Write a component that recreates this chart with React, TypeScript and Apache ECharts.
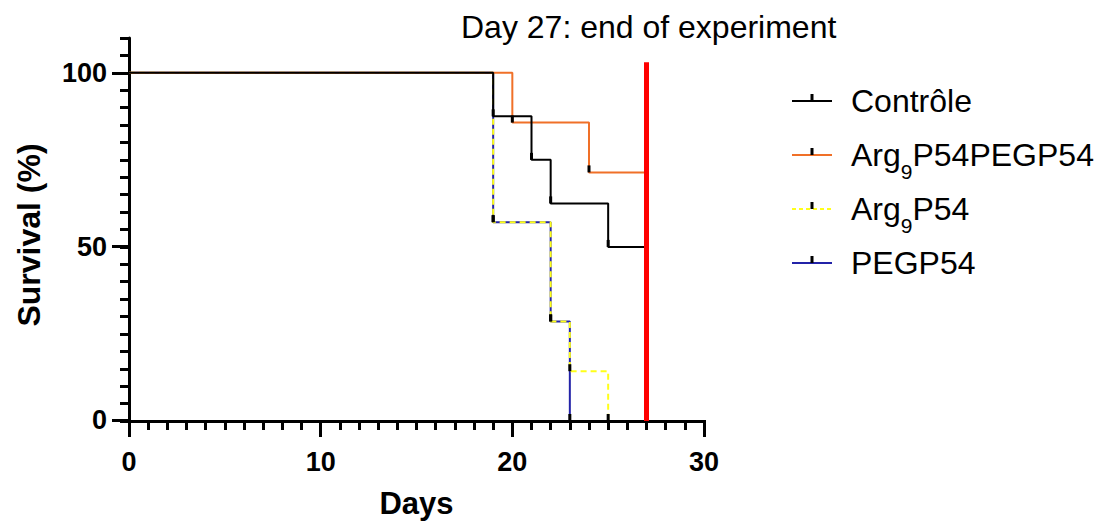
import React, { useEffect, useRef } from "react";
import * as echarts from "echarts";

// ---- data ----
const controleDays = [0, 19, 21, 22, 25, 27];
const controleSurv = [100, 87.5, 75, 62.5, 50, 50];
const argPegDays = [0, 20, 24, 27];
const argPegSurv = [100, 85.7, 71.4, 71.4];
const argDays = [0, 19, 22, 23, 25];
const argSurv = [100, 57.1, 28.6, 14.3, 0];
const pegDays = [0, 19, 22, 23];
const pegSurv = [100, 57.1, 28.6, 0];
const endDay = 27;
const endLineSurv = [0, 103];
const xTicks = [0, 10, 20, 30];
const yTicks = [0, 50, 100];

const FONT = "'Liberation Sans', Arial, sans-serif";

const seriesDefs = [
  { name: "PEGP54", days: pegDays, surv: pegSurv, color: "#2323a8", dash: "solid" as any },
  { name: "Arg9P54", days: argDays, surv: argSurv, color: "#ffff1a", dash: [6, 4] as any },
  { name: "Arg9P54PEGP54", days: argPegDays, surv: argPegSurv, color: "#f07028", dash: "solid" as any },
  { name: "Contrôle", days: controleDays, surv: controleSurv, color: "#000000", dash: "solid" as any },
];

const legendOrder = ["Contrôle", "Arg9P54PEGP54", "Arg9P54", "PEGP54"];

function richName(name: string) {
  return name.replace("Arg9", "{n|Arg}{s|9}{n|") + (name.startsWith("Arg9") ? "}" : "");
}

export default function App() {
  const ref = useRef<HTMLDivElement>(null);
  useEffect(() => {
    if (!ref.current) return;
    const chart = echarts.init(ref.current, undefined, { renderer: "svg" });

    const series: any[] = seriesDefs.map((s) => ({
      type: "line",
      name: s.name,
      xAxisIndex: 0,
      yAxisIndex: 0,
      step: "end",
      data: s.days.map((d, i) => ({
        value: [d, s.surv[i]],
        symbol: i > 0 && d < endDay ? "rect" : "none",
      })),
      symbolSize: [3, 7],
      symbolOffset: [0, -3.5],
      itemStyle: { color: "#000" },
      lineStyle: { color: s.color, width: 2, type: s.dash },
      showSymbol: true,
      clip: false,
      z: 3,
    }));
    series.push({
      type: "line",
      name: "end",
      xAxisIndex: 0,
      yAxisIndex: 0,
      data: endLineSurv.map((v) => [endDay, v]),
      symbol: "none",
      lineStyle: { color: "#ff0000", width: 5 },
      clip: false,
      z: 4,
    });

    const legendY0 = 101;
    const legendStep = 54;
    const graphics: any[] = [];
    legendOrder.forEach((nm, i) => {
      const s = seriesDefs.find((d) => d.name === nm)!;
      const y = legendY0 + i * legendStep;
      const isRich = nm.startsWith("Arg9");
      graphics.push({
        type: "line",
        shape: { x1: 792, y1: y, x2: 832, y2: y },
        style: { stroke: s.color, lineWidth: 2, lineDash: Array.isArray(s.dash) ? [4, 3] : null },
      });
      graphics.push({
        type: "rect",
        shape: { x: 810.5, y: y - 7, width: 3, height: 7 },
        style: { fill: "#000" },
      });
      graphics.push({
        type: "text",
        x: 851,
        y: isRich ? y + 6 : y,
        style: {
          text: isRich ? richName(nm) : nm,
          fontFamily: FONT,
          fontSize: 32,
          fill: "#000",
          verticalAlign: "middle",
          rich: {
            n: { fontFamily: FONT, fontSize: 32, fill: "#000", verticalAlign: "bottom", padding: [0, 0, 12, 0] },
            s: { fontFamily: FONT, fontSize: 21, fill: "#000", verticalAlign: "bottom", padding: [0, 0, 1, 0] },
          },
        },
      });
    });
    graphics.push({
      type: "text",
      x: 29,
      y: 235,
      rotation: Math.PI / 2,
      style: {
        text: "Survival (%)",
        fontFamily: FONT,
        fontSize: 32,
        fontWeight: "bold",
        fill: "#000",
        align: "center",
        verticalAlign: "middle",
      },
    });

    chart.setOption({
      animation: false,
      title: {
        text: "Day 27: end of experiment",
        left: 461,
        top: 11,
        padding: 0,
        textStyle: { fontFamily: FONT, fontSize: 32, fontWeight: "normal", color: "#000" },
      },
      grid: [
        { left: 129, top: 38, width: 575, height: 383, containLabel: false },
        { left: 129, top: 73, width: 575, height: 348, containLabel: false },
      ],
      xAxis: [
        {
          type: "value",
          gridIndex: 0,
          min: 0,
          max: 30,
          interval: 1,
          axisLine: { show: true, lineStyle: { color: "#000", width: 3 } },
          axisTick: { show: true, length: 9, lineStyle: { color: "#000", width: 3 } },
          axisLabel: { show: false },
          splitLine: { show: false },
        },
        {
          type: "value",
          gridIndex: 1,
          min: 0,
          max: 30,
          interval: 10,
          axisLine: { show: false },
          axisTick: { show: true, length: 17, lineStyle: { color: "#000", width: 3 } },
          axisLabel: {
            show: true,
            margin: 28,
            fontFamily: FONT,
            fontSize: 27,
            fontWeight: "bold",
            color: "#000",
            customValues: xTicks,
          },
          splitLine: { show: false },
          name: "Days",
          nameLocation: "middle",
          nameGap: 68,
          nameTextStyle: { fontFamily: FONT, fontSize: 31, fontWeight: "bold", color: "#000" },
        },
      ],
      yAxis: [
        {
          type: "value",
          gridIndex: 0,
          min: 0,
          max: 110,
          interval: 5,
          axisLine: { show: true, lineStyle: { color: "#000", width: 3 } },
          axisTick: { show: true, length: 9, lineStyle: { color: "#000", width: 3 } },
          axisLabel: { show: false },
          splitLine: { show: false },
        },
        {
          type: "value",
          gridIndex: 1,
          min: 0,
          max: 100,
          interval: 50,
          axisLine: { show: false },
          axisTick: { show: true, length: 17, lineStyle: { color: "#000", width: 3 } },
          axisLabel: {
            show: true,
            margin: 22,
            fontFamily: FONT,
            fontSize: 27,
            fontWeight: "bold",
            color: "#000",
            customValues: yTicks,
          },
          splitLine: { show: false },
        },
      ],
      graphic: graphics,
      series,
    });
    return () => chart.dispose();
  }, []);
  return (
    <div
      ref={ref}
      style={{ position: "fixed", left: 0, top: 0, width: 1104, height: 524, background: "#fff" }}
    />
  );
}
